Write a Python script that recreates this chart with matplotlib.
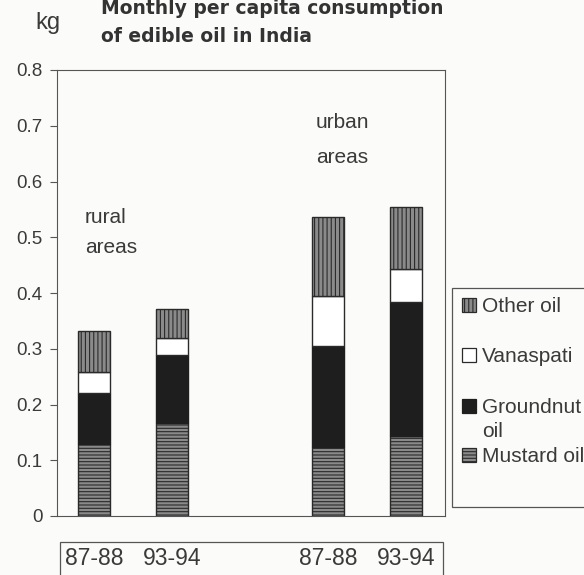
import matplotlib
matplotlib.use("Agg")
import matplotlib.pyplot as plt
from matplotlib.patches import Rectangle
import numpy as np

plt.rcParams['font.family'] = ['Liberation Sans', 'DejaVu Sans']
plt.rcParams['hatch.linewidth'] = 0.8

periods = ["87-88", "93-94", "87-88", "93-94"]
mustard = [0.129, 0.167, 0.124, 0.143]
groundnut = [0.092, 0.121, 0.181, 0.241]
vanaspati = [0.038, 0.032, 0.090, 0.059]
other = [0.073, 0.051, 0.142, 0.112]
yticks = [0, 0.1, 0.2, 0.3, 0.4, 0.5, 0.6, 0.7, 0.8]
legend_labels = ["Other oil", "Vanaspati", "Groundnut\noil", "Mustard oil"]

txt = '#3a3a3a'
bg = '#fbfbf9'
gray = '#8a8a8a'
dark = '#1e1e1e'
edge = '#2a2a2a'
W, H = 584, 575

fig = plt.figure(figsize=(5.84, 5.75), dpi=100, facecolor=bg)
ax = fig.add_axes([57/W, 1-516/H, (445-57)/W, (516-70)/H], facecolor=bg)

x = np.array([0, 1, 3, 4])
w = 0.41
b1 = np.array(mustard)
b2 = b1 + np.array(groundnut)
b3 = b2 + np.array(vanaspati)
ax.bar(x, mustard, w, color=gray, edgecolor=edge, hatch='-----', linewidth=1.0)
ax.bar(x, groundnut, w, bottom=b1, color=dark, edgecolor=dark, linewidth=1.0)
ax.bar(x, vanaspati, w, bottom=b2, color='white', edgecolor=edge, linewidth=1.0)
ax.bar(x, other, w, bottom=b3, color=gray, edgecolor=edge, hatch='||||', linewidth=1.0)

ax.set_xlim(-0.474, 4.5)
ax.set_ylim(0, 0.8)
ax.set_yticks(yticks)
ax.set_yticklabels(["0" if v == 0 else f"{v:.1f}" for v in yticks], fontsize=13.5, color=txt)
ax.tick_params(axis='y', length=5, width=0.8, color='#555555', pad=5.5)
ax.set_xticks(x)
ax.set_xticklabels(periods, fontsize=16.5, color=txt)
ax.tick_params(axis='x', length=0, pad=22.5)
for s in ax.spines.values():
    s.set_color('#555555')
    s.set_linewidth(0.8)

# box around x labels
fig.patches.append(Rectangle((60/W, -0.01), (443-60)/W, 1-542/H + 0.01, transform=fig.transFigure,
                             fill=False, edgecolor='#555555', linewidth=0.9))

# area annotations
fig.text(85/W, 1-223/H, "rural", fontsize=15, color=txt, va='baseline', ha='left')
fig.text(85/W, 1-253/H, "areas", fontsize=15, color=txt, va='baseline', ha='left')
fig.text(316/W, 1-128/H, "urban", fontsize=15, color=txt, va='baseline', ha='left')
fig.text(316/W, 1-163/H, "areas", fontsize=15, color=txt, va='baseline', ha='left')

fig.text(35/W, 1-29/H, "kg", fontsize=17, color=txt, va='baseline', ha='left')
fig.text(101/W, 1-14/H, "Monthly per capita consumption", fontsize=13.5, family='DejaVu Sans',
         fontweight='bold', color='#333333', va='baseline', ha='left')
fig.text(101/W, 1-42/H, "of edible oil in India", fontsize=13.5, family='DejaVu Sans',
         fontweight='bold', color='#333333', va='baseline', ha='left')

# legend (drawn manually)
fig.patches.append(Rectangle((452/W, 1-507/H), (W+5-452)/W, (507-288)/H, transform=fig.transFigure,
                             facecolor=bg, edgecolor='#555555', linewidth=0.9))
leg_styles = [dict(facecolor=gray, edgecolor=edge, hatch='||||'),
              dict(facecolor='white', edgecolor=edge),
              dict(facecolor=dark, edgecolor=dark),
              dict(facecolor=gray, edgecolor=edge, hatch='-----')]
leg_y = [305, 355, 406, 455]
for lab, st, yc in zip(legend_labels, leg_styles, leg_y):
    fig.patches.append(Rectangle((462/W, 1-(yc+7)/H), 14/W, 14/H, transform=fig.transFigure,
                                 linewidth=0.9, **st))
    for i, ln in enumerate(lab.split("\n")):
        fig.text(482/W, 1-(yc + 7 + i*24)/H, ln, fontsize=15, color=txt, va='baseline', ha='left')

fig.savefig("out.png", dpi=100, facecolor=bg)
